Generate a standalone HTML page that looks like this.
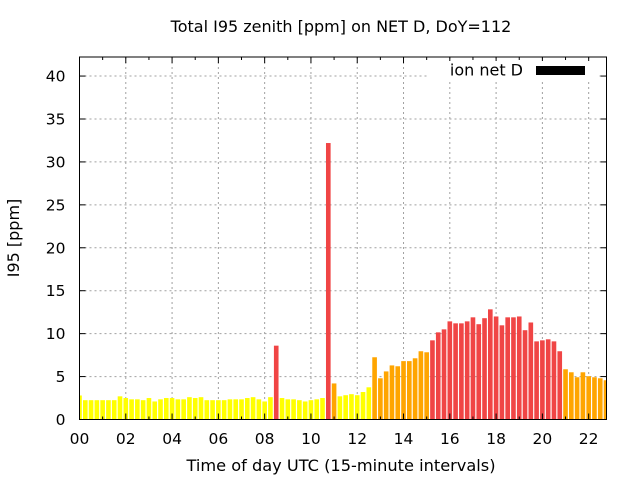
<!DOCTYPE html>
<html><head><meta charset="utf-8"><style>
html,body{margin:0;padding:0;background:#fff}
svg{display:block;font-family:"DejaVu Sans","Liberation Sans",sans-serif}
</style></head><body>
<svg id="chart" width="640" height="480" viewBox="0 0 640 480">
<text x="341" y="32" text-anchor="middle" font-size="16">Total I95 zenith [ppm] on NET D, DoY=112</text>
<g id="grid"></g>
<g id="bars"></g>
<g id="axes"></g>
<text x="341" y="471" text-anchor="middle" font-size="16.2">Time of day UTC (15-minute intervals)</text>
<text transform="translate(19,238) rotate(-90)" text-anchor="middle" font-size="16">I95 [ppm]</text>
<g>
<rect x="428" y="61" width="170" height="19" fill="#fff"/>
<text x="523" y="75.5" text-anchor="end" font-size="16">ion net D</text>
<rect x="536" y="66" width="49" height="9" fill="#000"/>
</g>
</svg>
<script>
const values = [2.8,2.25,2.25,2.25,2.25,2.25,2.25,2.7,2.5,2.35,2.35,2.25,2.5,2.1,2.35,2.5,2.5,2.35,2.35,2.6,2.5,2.6,2.25,2.25,2.25,2.25,2.35,2.35,2.35,2.5,2.6,2.35,2.1,2.6,8.6,2.5,2.35,2.35,2.25,2.1,2.25,2.35,2.5,32.2,4.2,2.7,2.83,2.95,2.83,3.2,3.75,7.25,4.8,5.6,6.3,6.2,6.8,6.8,7.13,7.95,7.83,9.22,10.15,10.5,11.43,11.2,11.2,11.43,11.9,11.1,11.8,12.83,12.0,10.97,11.9,11.9,12.0,10.4,11.3,9.1,9.22,9.34,9.1,7.95,5.85,5.5,4.92,5.5,5.04,4.92,4.8,4.57];
const levels = "yyyyyyyyyyyyyyyyyyyyyyyyyyyyyyyyyyryyyyyyyyroyyyyyyoooooooooorrrrrrrrrrrrrrrrrrrrrrrooooooooo";
const xTicks = ["00","02","04","06","08","10","12","14","16","18","20","22"];
const yTicks = [0,5,10,15,20,25,30,35,40];
const colors = {y:"#ffff00", o:"#ffa500", r:"#f04545"};
const L=79.5,R=606.5,T=57,B=419.5,XMIN=0,XMAX=22.77,YMAX=42.22;
const sx=v=>L+(v-XMIN)/(XMAX-XMIN)*(R-L);
const sy=v=>B-v/YMAX*(B-T);
const NS="http://www.w3.org/2000/svg";
function mk(tag,attrs,parent){const e=document.createElementNS(NS,tag);for(const k in attrs)e.setAttribute(k,attrs[k]);parent.appendChild(e);return e;}
const grid=document.getElementById('grid'),bars=document.getElementById('bars'),axes=document.getElementById('axes');
yTicks.forEach(v=>{
  const y=sy(v);
  if(v>0){const g=mk('line',{x1:L,x2:R,y1:y,y2:y,stroke:"#a0a0a0","stroke-dasharray":"2,3","stroke-width":1},grid);
  
  }
  const t=mk('line',{x1:L,x2:L+6,y1:y,y2:y,stroke:"#000"},axes);
  
  
  const t2=mk('line',{x1:R,x2:R-6,y1:y,y2:y,stroke:"#000"},axes);
  
  
  const tx=mk('text',{x:L-14,y:y+5.5,"text-anchor":"end","font-size":15.5},axes);
  tx.textContent=v;
  
  
});
xTicks.forEach((s,i)=>{
  const h=parseInt(s,10),x=sx(h);
  if(h>0){const g=mk('line',{x1:x,x2:x,y1:T,y2:B,stroke:"#a0a0a0","stroke-dasharray":"2,3","stroke-width":1},grid);
  
  }
  const tx=mk('text',{x:x,y:444,"text-anchor":"middle","font-size":15.5},axes);
  tx.textContent=s;
  
  
});
for(let h=0;h<=22;h++){const x=sx(h),len=(h%2===0)?6:3;
  const a=mk('line',{x1:x,x2:x,y1:B,y2:B-len,stroke:"#000"},axes);
  
  
  const b=mk('line',{x1:x,x2:x,y1:T,y2:T+len,stroke:"#000"},axes);
  
  
}
values.forEach((v,i)=>{
  const c=i*0.25,w=(sx(0.2)-sx(0));
  let x0=sx(c)-w/2,x1=sx(c)+w/2;x0=Math.max(x0,L);x1=Math.min(x1,R);
  const r=mk('rect',{x:x0,y:sy(v),width:x1-x0,height:B-sy(v),fill:colors[levels[i]]},bars);
  
  
});
const f=mk('rect',{x:L,y:T,width:R-L,height:B-T,fill:"none",stroke:"#000","stroke-width":1},axes);


</script>
</body></html>
